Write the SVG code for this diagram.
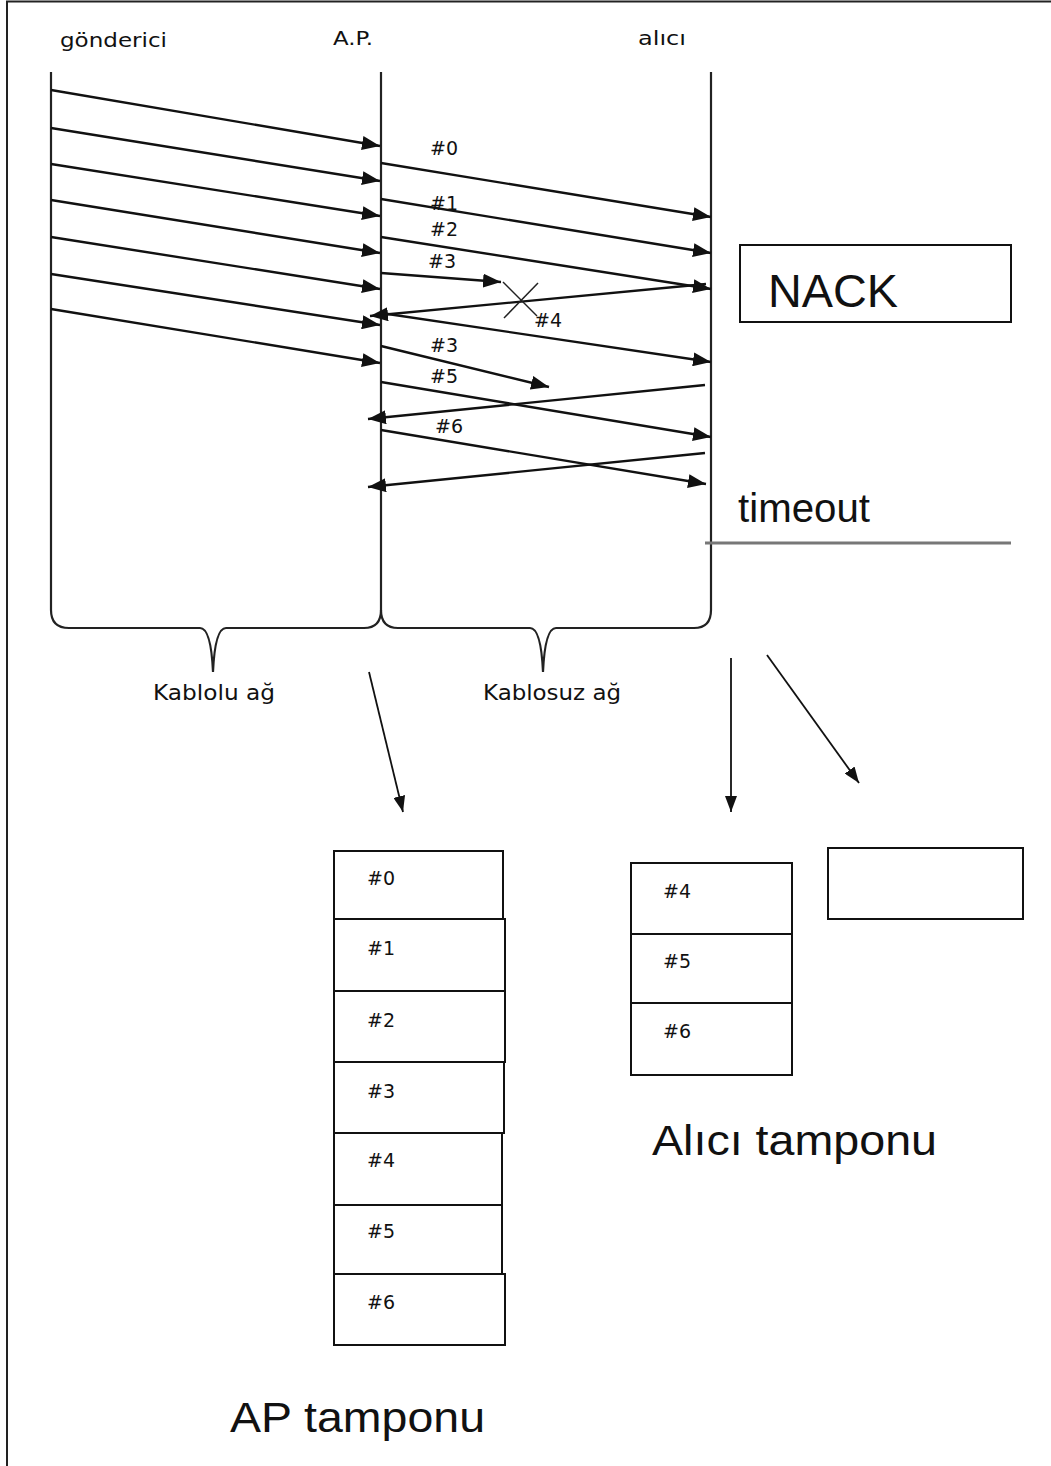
<svg xmlns="http://www.w3.org/2000/svg" width="1051" height="1466" viewBox="0 0 1051 1466">
  <defs>
    <style>
      .lbl { font-family: "DejaVu Sans", "Liberation Sans", sans-serif; fill: #111; }
      .big { font-family: "Liberation Sans", Arial, sans-serif; fill: #111; }
      .msg { stroke: #111; stroke-width: 2.4; fill: none; marker-end: url(#ah); }
      .thin { stroke: #111; stroke-width: 1.8; fill: none; marker-end: url(#ahs); }
      .box { fill: #fff; stroke: #111; stroke-width: 2; }
      .life { stroke: #222; stroke-width: 2.2; fill: none; }
    </style>
    <marker id="ah" markerUnits="userSpaceOnUse" markerWidth="18" markerHeight="14" refX="18" refY="7" orient="auto">
      <path d="M0,0 L18,7 L0,14 z" fill="#111"/>
    </marker>
    <marker id="ahs" markerUnits="userSpaceOnUse" markerWidth="16" markerHeight="12" refX="16" refY="6" orient="auto">
      <path d="M0,0 L16,6 L0,12 z" fill="#111"/>
    </marker>
  </defs>
  <rect width="1051" height="1466" fill="#fff"/>
  <path d="M7,1466 L7,1.5 L1051,1.5" fill="none" stroke="#222" stroke-width="2"/>

  <g id="lifelines">
    <g id="gonderici">
      <text class="lbl" x="60" y="47" font-size="20" textLength="107" lengthAdjust="spacingAndGlyphs">gönderici</text>
    </g>
    <g id="ap">
      <text class="lbl" x="333" y="45" font-size="19" textLength="40" lengthAdjust="spacingAndGlyphs">A.P.</text>
    </g>
    <g id="alici">
      <text class="lbl" x="638" y="45" font-size="20" textLength="48" lengthAdjust="spacingAndGlyphs">alıcı</text>
    </g>
    <g id="braces">
      <path class="life" d="M51,72 L51,610 Q51,628 69,628 L200,628 Q211,628 213,672 Q215,628 226,628 L364,628 Q381,628 381,610 L381,72"/>
      <path class="life" d="M381,610 Q381,628 398,628 L530,628 Q541,628 543,672 Q545,628 556,628 L694,628 Q711,628 711,610 L711,72"/>
      <text class="lbl" x="153" y="700" font-size="21" textLength="122" lengthAdjust="spacingAndGlyphs">Kablolu ağ</text>
      <text class="lbl" x="483" y="700" font-size="21" textLength="138" lengthAdjust="spacingAndGlyphs">Kablosuz ağ</text>
    </g>
  </g>

  <g id="nack">
    <rect class="box" x="740" y="245" width="271" height="77"/>
    <text class="big" x="768" y="307" font-size="46" textLength="130" lengthAdjust="spacingAndGlyphs">NACK</text>
  </g>

  <g id="timeout">
    <text class="big" x="738" y="522" font-size="40" textLength="132" lengthAdjust="spacingAndGlyphs">timeout</text>
    <line x1="705" y1="543" x2="1011" y2="543" stroke="#777" stroke-width="3"/>
  </g>

  <g id="connectors">
    <line class="msg" x1="51" y1="90" x2="380" y2="146"/>
    <line class="msg" x1="51" y1="128" x2="380" y2="181"/>
    <line class="msg" x1="51" y1="164" x2="380" y2="216"/>
    <line class="msg" x1="51" y1="200" x2="380" y2="253"/>
    <line class="msg" x1="51" y1="237" x2="380" y2="289"/>
    <line class="msg" x1="51" y1="274" x2="380" y2="325"/>
    <line class="msg" x1="51" y1="309" x2="380" y2="363"/>

    <line class="msg" x1="381" y1="163" x2="711" y2="217"/>
    <line class="msg" x1="381" y1="199" x2="711" y2="253"/>
    <line class="msg" x1="381" y1="237" x2="711" y2="289"/>
    <line class="msg" x1="381" y1="273" x2="501" y2="282"/>
    <line class="msg" x1="706" y1="284" x2="370" y2="316"/>
    <line class="msg" x1="381" y1="313" x2="711" y2="362"/>
    <line class="msg" x1="381" y1="346" x2="549" y2="387"/>
    <line class="msg" x1="381" y1="382" x2="711" y2="437"/>
    <line class="msg" x1="705" y1="385" x2="368" y2="419"/>
    <line class="msg" x1="381" y1="430" x2="706" y2="484"/>
    <line class="msg" x1="705" y1="453" x2="368" y2="487"/>

    <g id="lost-mark" stroke="#222" stroke-width="1.5">
      <line x1="503" y1="282" x2="537" y2="316"/>
      <line x1="538" y1="283" x2="504" y2="318"/>
    </g>

    <line class="thin" x1="369" y1="672" x2="403" y2="812"/>
    <line class="thin" x1="731" y1="658" x2="731" y2="812"/>
    <line class="thin" x1="767" y1="655" x2="859" y2="783"/>
  </g>

  <g id="msg-labels">
    <text class="lbl" x="430" y="155" font-size="19">#0</text>
    <text class="lbl" x="430" y="210" font-size="19">#1</text>
    <text class="lbl" x="430" y="236" font-size="19">#2</text>
    <text class="lbl" x="428" y="268" font-size="19">#3</text>
    <text class="lbl" x="534" y="327" font-size="19">#4</text>
    <text class="lbl" x="430" y="352" font-size="19">#3</text>
    <text class="lbl" x="430" y="383" font-size="19">#5</text>
    <text class="lbl" x="435" y="433" font-size="19">#6</text>
  </g>

  <g id="ap-buffer">
    <rect class="box" x="334" y="851" width="169" height="68"/>
    <rect class="box" x="334" y="919" width="171" height="72"/>
    <rect class="box" x="334" y="991" width="171" height="71"/>
    <rect class="box" x="334" y="1062" width="170" height="71"/>
    <rect class="box" x="334" y="1133" width="168" height="72"/>
    <rect class="box" x="334" y="1205" width="168" height="69"/>
    <rect class="box" x="334" y="1274" width="171" height="71"/>
    <text class="lbl" x="367" y="885" font-size="19">#0</text>
    <text class="lbl" x="367" y="955" font-size="19">#1</text>
    <text class="lbl" x="367" y="1027" font-size="19">#2</text>
    <text class="lbl" x="367" y="1098" font-size="19">#3</text>
    <text class="lbl" x="367" y="1167" font-size="19">#4</text>
    <text class="lbl" x="367" y="1238" font-size="19">#5</text>
    <text class="lbl" x="367" y="1309" font-size="19">#6</text>
    <text class="big" x="230" y="1432" font-size="42" textLength="255" lengthAdjust="spacingAndGlyphs">AP tamponu</text>
  </g>

  <g id="alici-buffer">
    <rect class="box" x="631" y="863" width="161" height="71"/>
    <rect class="box" x="631" y="934" width="161" height="69"/>
    <rect class="box" x="631" y="1003" width="161" height="72"/>
    <text class="lbl" x="663" y="898" font-size="19">#4</text>
    <text class="lbl" x="663" y="968" font-size="19">#5</text>
    <text class="lbl" x="663" y="1038" font-size="19">#6</text>
    <text class="big" x="652" y="1155" font-size="43" textLength="285" lengthAdjust="spacingAndGlyphs">Alıcı tamponu</text>
  </g>

  <g id="empty-box">
    <rect class="box" x="828" y="848" width="195" height="71"/>
  </g>
</svg>
